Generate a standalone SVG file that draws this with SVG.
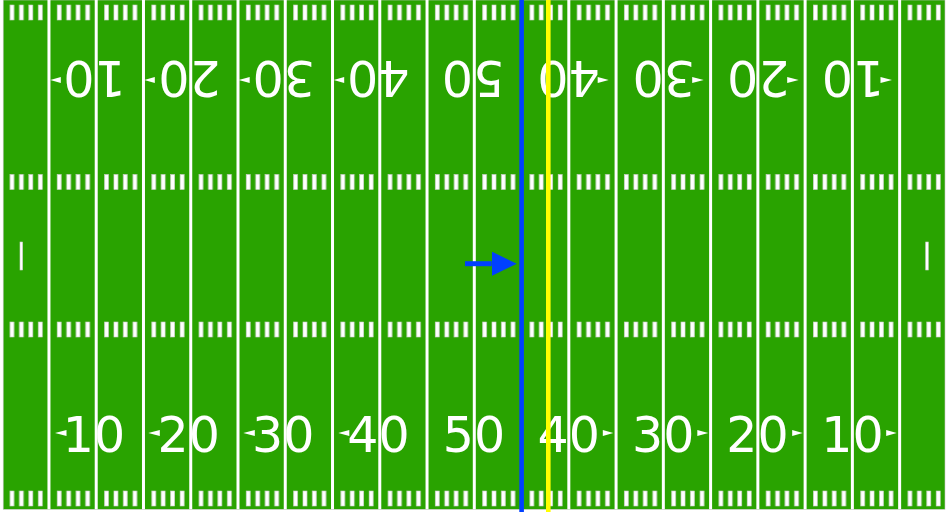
<svg xmlns="http://www.w3.org/2000/svg" width="948" height="512" viewBox="0 0 948 512">
  <defs>
    <style>
      .yl { stroke: #ffffff; stroke-width: 3; }
      .tk { fill: #ffffff; stroke: #cfcfcf; stroke-width: 0.6; }
      .num { font-family: "DejaVu Sans", Verdana, sans-serif; font-size: 49px; fill: #ffffff; text-anchor: middle; }
      .tri { fill: #ffffff; }
      .mark { fill: #ffffff; stroke: #cfcfcf; stroke-width: 0.6; }
    </style>
    <pattern id="ticks" patternUnits="userSpaceOnUse" x="1.7" y="0" width="47.26" height="512">
      <g class="tk">
        <rect x="8.25" y="5" width="4" height="15"/>
        <rect x="17.7" y="5" width="4" height="15"/>
        <rect x="27.16" y="5" width="4" height="15"/>
        <rect x="36.6" y="5" width="4" height="15"/>
        <rect x="8.25" y="174.5" width="4" height="15"/>
        <rect x="17.7" y="174.5" width="4" height="15"/>
        <rect x="27.16" y="174.5" width="4" height="15"/>
        <rect x="36.6" y="174.5" width="4" height="15"/>
        <rect x="8.25" y="322" width="4" height="15"/>
        <rect x="17.7" y="322" width="4" height="15"/>
        <rect x="27.16" y="322" width="4" height="15"/>
        <rect x="36.6" y="322" width="4" height="15"/>
        <rect x="8.25" y="491" width="4" height="15"/>
        <rect x="17.7" y="491" width="4" height="15"/>
        <rect x="27.16" y="491" width="4" height="15"/>
        <rect x="36.6" y="491" width="4" height="15"/>
      </g>
    </pattern>
    <marker id="arrowhead" viewBox="0 0 25 24.3" refX="0" refY="12.15" markerWidth="25" markerHeight="24.3" markerUnits="userSpaceOnUse" orient="auto">
      <path d="M0,0 L25,12.15 L0,24.3 Z" fill="#0040ff"/>
    </marker>
  </defs>

  <rect x="0" y="0" width="948" height="512" fill="#ffffff"/>

  <g id="field">
    <rect x="3.2" y="0" width="941.8" height="509.3" fill="#29a300" stroke="#c8c8c8" stroke-width="0.6"/>
  </g>

  <g id="yard-lines">
    <line class="yl" x1="48.96" y1="0" x2="48.96" y2="509.3"/>
    <line class="yl" x1="96.22" y1="0" x2="96.22" y2="509.3"/>
    <line class="yl" x1="143.48" y1="0" x2="143.48" y2="509.3"/>
    <line class="yl" x1="190.74" y1="0" x2="190.74" y2="509.3"/>
    <line class="yl" x1="238" y1="0" x2="238" y2="509.3"/>
    <line class="yl" x1="285.26" y1="0" x2="285.26" y2="509.3"/>
    <line class="yl" x1="332.52" y1="0" x2="332.52" y2="509.3"/>
    <line class="yl" x1="379.78" y1="0" x2="379.78" y2="509.3"/>
    <line class="yl" x1="427.04" y1="0" x2="427.04" y2="509.3"/>
    <line class="yl" x1="474.3" y1="0" x2="474.3" y2="509.3"/>
    <line class="yl" x1="521.56" y1="0" x2="521.56" y2="509.3"/>
    <line class="yl" x1="568.82" y1="0" x2="568.82" y2="509.3"/>
    <line class="yl" x1="616.08" y1="0" x2="616.08" y2="509.3"/>
    <line class="yl" x1="663.34" y1="0" x2="663.34" y2="509.3"/>
    <line class="yl" x1="710.6" y1="0" x2="710.6" y2="509.3"/>
    <line class="yl" x1="757.86" y1="0" x2="757.86" y2="509.3"/>
    <line class="yl" x1="805.12" y1="0" x2="805.12" y2="509.3"/>
    <line class="yl" x1="852.38" y1="0" x2="852.38" y2="509.3"/>
    <line class="yl" x1="899.64" y1="0" x2="899.64" y2="509.3"/>
  </g>

  <g id="hash-marks">
    <rect x="3.2" y="0" width="941.8" height="509.3" fill="url(#ticks)"/>
  </g>

  <g id="conversion-marks">
    <rect class="mark" x="20" y="242" width="2.6" height="28"/>
    <rect class="mark" x="925.7" y="242" width="2.6" height="28"/>
  </g>

  <g id="numbers-bottom">
    <text class="num" x="94" y="452">10</text>
    <text class="num" x="188.7" y="452">20</text>
    <text class="num" x="283.3" y="452">30</text>
    <text class="num" x="378.5" y="452">40</text>
    <text class="num" x="474" y="452">50</text>
    <text class="num" x="568.8" y="452">40</text>
    <text class="num" x="663.3" y="452">30</text>
    <text class="num" x="757.5" y="452">20</text>
    <text class="num" x="852.4" y="452">10</text>
    <polygon class="tri" points="55,433 66.5,430 66.5,436"/>
    <polygon class="tri" points="148.3,433 159.8,430 159.8,436"/>
    <polygon class="tri" points="243.3,433 254.8,430 254.8,436"/>
    <polygon class="tri" points="338.3,433 349.3,430 349.3,436"/>
    <polygon class="tri" points="613.3,433 602.8,430 602.8,436"/>
    <polygon class="tri" points="708.3,433 697.3,430 697.3,436"/>
    <polygon class="tri" points="802.7,433 792.2,430 792.2,436"/>
    <polygon class="tri" points="896.7,433 886.2,430 886.2,436"/>
  </g>

  <g id="numbers-top">
    <text class="num" x="94" y="452" transform="rotate(180 473.5 256.5)">10</text>
    <text class="num" x="188.7" y="452" transform="rotate(180 473.5 256.5)">20</text>
    <text class="num" x="283.3" y="452" transform="rotate(180 473.5 256.5)">30</text>
    <text class="num" x="378.5" y="452" transform="rotate(180 473.5 256.5)">40</text>
    <text class="num" x="474" y="452" transform="rotate(180 473.5 256.5)">50</text>
    <text class="num" x="568.8" y="452" transform="rotate(180 473.5 256.5)">40</text>
    <text class="num" x="663.3" y="452" transform="rotate(180 473.5 256.5)">30</text>
    <text class="num" x="757.5" y="452" transform="rotate(180 473.5 256.5)">20</text>
    <text class="num" x="852.4" y="452" transform="rotate(180 473.5 256.5)">10</text>
    <g transform="rotate(180 473.5 256.5)">
      <polygon class="tri" points="55,433 66.5,430 66.5,436"/>
      <polygon class="tri" points="148.3,433 159.8,430 159.8,436"/>
      <polygon class="tri" points="243.3,433 254.8,430 254.8,436"/>
      <polygon class="tri" points="338.3,433 349.3,430 349.3,436"/>
      <polygon class="tri" points="613.3,433 602.8,430 602.8,436"/>
      <polygon class="tri" points="708.3,433 697.3,430 697.3,436"/>
      <polygon class="tri" points="802.7,433 792.2,430 792.2,436"/>
      <polygon class="tri" points="896.7,433 886.2,430 886.2,436"/>
    </g>
  </g>

  <g id="first-down-line">
    <rect x="546" y="0" width="4.6" height="512" fill="#ffff00"/>
  </g>

  <g id="line-of-scrimmage">
    <rect x="519.3" y="0" width="4.6" height="512" fill="#0040ff"/>
  </g>

  <g id="connectors">
    <line x1="465" y1="263.7" x2="491.7" y2="263.7" stroke="#0040ff" stroke-width="5" marker-end="url(#arrowhead)"/>
  </g>
</svg>
